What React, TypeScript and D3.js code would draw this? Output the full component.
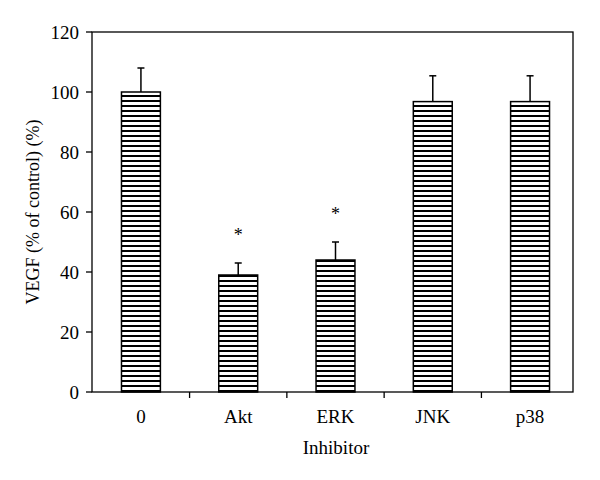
import React from "react";
import * as d3 from "d3";

const categories = ["0", "Akt", "ERK", "JNK", "p38"];
const values = [100, 39, 44, 96.8, 96.8];
const errors = [8, 4, 6, 8.6, 8.6];
const significant = [false, true, true, false, false];
const yTicks = [0, 20, 40, 60, 80, 100, 120];

const W = 600, H = 480;
const left = 92, right = 573, top = 32, bottom = 392;

export default function App() {
  const y = d3.scaleLinear().domain([0, 120]).range([bottom, top]);
  const x = d3.scaleBand().domain(categories).range([92, 579]).paddingInner(0.6).paddingOuter(0.303);
  const bw = x.bandwidth();
  const step = x.step();
  const font = "'Liberation Serif', 'DejaVu Serif', serif";
  const boundaries = categories.slice(0, -1).map((c) => (x(c)! + bw / 2 + step / 2));
  return (
    <svg width={W} height={H} style={{ position: "absolute", left: 0, top: 0, background: "#fff" }} fontFamily={font}>
      <defs>
        <pattern id="stripes" patternUnits="userSpaceOnUse" width={10} height={5}>
          <rect x={0} y={0} width={10} height={5} fill="#fff" />
          <rect x={0} y={0} width={10} height={2} fill="#000" />
        </pattern>
      </defs>
      <rect x={0} y={0} width={W} height={H} fill="#fff" />
      {categories.map((c, i) => {
        const cx = x(c)! + bw / 2;
        const yt = y(values[i]);
        const ye = y(values[i] + errors[i]);
        return (
          <g key={c}>
            <line x1={cx} x2={cx} y1={yt} y2={ye} stroke="#000" strokeWidth={1.5} />
            <line x1={cx - 3.5} x2={cx + 3.5} y1={ye} y2={ye} stroke="#000" strokeWidth={1.5} />
            <rect x={x(c)} y={yt} width={bw} height={bottom - yt} fill="url(#stripes)" stroke="#000" strokeWidth={1.5} />
            {significant[i] && (
              <text x={cx} y={ye - 22} textAnchor="middle" fontSize={18}>*</text>
            )}
            <text x={cx} y={423} textAnchor="middle" fontSize={19}>{c}</text>
          </g>
        );
      })}
      <rect x={left} y={top} width={right - left} height={bottom - top} fill="none" stroke="#000" strokeWidth={1.3} />
      {yTicks.map((t) => (
        <g key={t}>
          <line x1={left - 6} x2={left} y1={y(t)} y2={y(t)} stroke="#000" strokeWidth={1.3} />
          <text x={left - 13} y={y(t)} textAnchor="end" dominantBaseline="central" fontSize={19}>{t}</text>
        </g>
      ))}
      {boundaries.map((b, i) => (
        <line key={i} x1={b} x2={b} y1={bottom} y2={bottom + 6} stroke="#000" strokeWidth={1.3} />
      ))}
      <text x={336} y={454} textAnchor="middle" fontSize={19}>Inhibitor</text>
      <text transform={`translate(39,212) rotate(-90)`} textAnchor="middle" fontSize={18}>VEGF (% of control) (%)</text>
    </svg>
  );
}
